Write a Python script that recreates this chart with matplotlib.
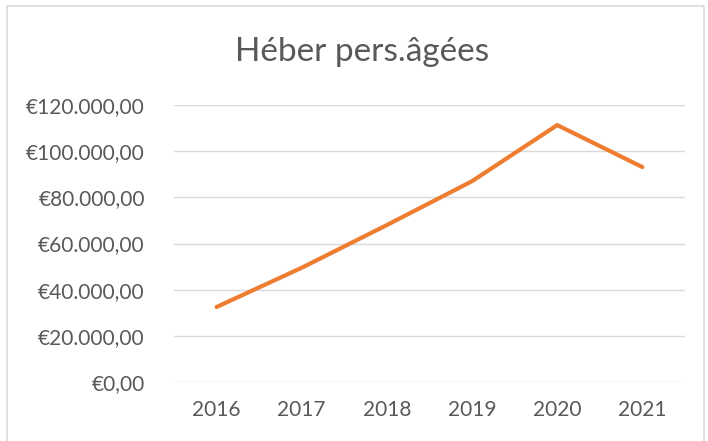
import matplotlib
matplotlib.use("Agg")
import matplotlib.pyplot as plt
from matplotlib.patches import Rectangle
from matplotlib.ticker import FuncFormatter

years = ["2016", "2017", "2018", "2019", "2020", "2021"]
amounts = [32500, 49500, 68000, 87000, 111300, 93100]

plt.rcParams['font.family'] = ['Lato', 'DejaVu Sans']

def euro(v, pos):
    s = "{:,.2f}".format(v).replace(",", "X").replace(".", ",").replace("X", ".")
    return "€" + s

fig = plt.figure(figsize=(7.08, 4.41), dpi=100)
ax = fig.add_axes([174/708, 59/441, 511/708, 277/441])

x = range(len(years))
ax.plot(x, amounts, color="#ED7D31", lw=3, solid_capstyle="round")

ax.set_xlim(-0.5, len(years) - 0.5)
ax.set_ylim(0, 120000)
ax.set_yticks(range(0, 120001, 20000))
ax.yaxis.set_major_formatter(FuncFormatter(euro))
ax.set_xticks(list(x))
ax.set_xticklabels(years)
ax.grid(axis="y", color="#d9d9d9", lw=1)
ax.set_axisbelow(True)
for s in ax.spines.values():
    s.set_visible(False)
ax.tick_params(length=0, labelsize=15, colors="#595959")
ax.tick_params(axis="y", pad=21)
ax.tick_params(axis="x", pad=13)

fig.text(362/708, 1 - 52/441, "Héber pers.âgées", ha="center", va="center",
         fontsize=24, color="#595959")

# outer chart border
fig.patches.append(Rectangle((7/708, -0.05), 697/708, 1.05 - 6/441,
                             transform=fig.transFigure, fill=False,
                             edgecolor="#d9d9d9", lw=1.2))

fig.savefig("out.png", dpi=100)
